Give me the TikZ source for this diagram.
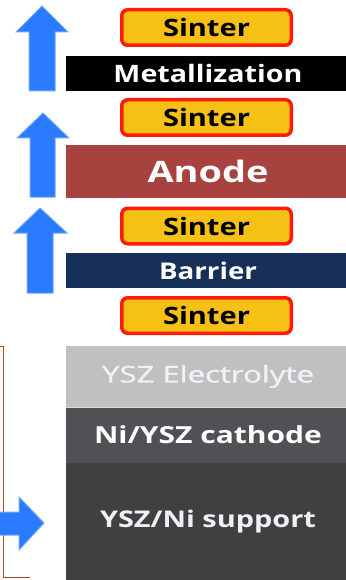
\documentclass[tikz,border=0pt]{standalone}
\usepackage{fontspec}
\setmainfont{Open Sans}
\newfontfamily\semibfont[FakeBold=1.2]{Open Sans}
\usepackage{graphicx}
\definecolor{sinterfill}{HTML}{F6C114}
\definecolor{sinterred}{HTML}{FF1A0A}
\definecolor{anodecol}{HTML}{A8423F}
\definecolor{barriercol}{HTML}{17305A}
\definecolor{electcol}{HTML}{C0C0C0}
\definecolor{cathcol}{HTML}{505155}
\definecolor{suppcol}{HTML}{404040}
\definecolor{arrowblue}{HTML}{2A7BFF}
\definecolor{arrowedge}{HTML}{6FA8FF}
\definecolor{bracketcol}{HTML}{B5472B}
\definecolor{lighttext}{HTML}{EEF2F7}
\newcommand{\fitw}[3]{\resizebox{#1pt}{\height}{\fontsize{#2}{#2}\selectfont #3}}
\begin{document}
\begin{tikzpicture}[x=1pt,y=-1pt,
  sinterbox/.style={draw=sinterred, line width=3.5pt, fill=sinterfill, rounded corners=6pt,
    minimum width=169.5pt, minimum height=35.5pt, inner sep=0pt, text=black, font=\bfseries},
  barbox/.style={draw=none, minimum width=284pt, inner sep=0pt, text=white, font=\bfseries},
  bluearrow/.style={fill=arrowblue, draw=arrowedge, line width=1pt, line join=miter},
  bracket/.style={draw=bracketcol, line width=1pt}]
\useasboundingbox (0,0) rectangle (345,580);
% layer bars
\node[barbox, fill=black, minimum height=35pt] (metal) at (208,73.5) {\fitw{189}{24}{Metallization}};
\node[barbox, fill=anodecol, minimum height=53pt] (anode) at (208,171.5) {\fitw{121}{29.5}{Anode}};
\node[barbox, fill=barriercol, minimum height=35pt] (barrier) at (208,270.5) {\fitw{98}{23}{Barrier}};
\node[barbox, fill=electcol, minimum height=61pt, text=lighttext, font=\semibfont] (elec) at (208,376.5) {\fitw{212}{23}{YSZ Electrolyte}};
\node[barbox, fill=cathcol, minimum height=56pt] (cath) at (208,435) {\fitw{228}{23.5}{Ni/YSZ cathode}};
\node[barbox, fill=suppcol, minimum height=117pt, text=lighttext] (supp) at (208,521.5) {\fitw{216}{23}{YSZ/Ni support}};
\draw[draw=white!85!black, line width=1pt] (elec.south west) -- (elec.south east);
% sinter steps
\node[sinterbox] (s1) at (206.5,27.5) {\fitw{87}{24}{Sinter}};
\node[sinterbox] (s2) at (206.5,117.5) {\fitw{87}{24}{Sinter}};
\node[sinterbox] (s3) at (206.5,226) {\fitw{87}{24}{Sinter}};
\node[sinterbox] (s4) at (206.5,315.5) {\fitw{87}{24}{Sinter}};
% up arrows
\draw[bluearrow] (42,6) -- (68,32) -- (55,32) -- (55,91) -- (29,91) -- (29,32) -- (16,32) -- cycle;
\draw[bluearrow] (43,113) -- (69,138) -- (55,138) -- (55,197) -- (30,197) -- (30,138) -- (17,138) -- cycle;
\draw[bluearrow] (40,208) -- (67,233) -- (53,233) -- (53,293) -- (27,293) -- (27,233) -- (14,233) -- cycle;
% bracket
\coordinate (btop) at (3,346);
\coordinate (bbot) at (3,577);
\draw[bracket] (0,346) -- (btop) -- (bbot) -- (30,577);
% right arrow
\draw[bluearrow] (44,523) -- (19,550) -- (19,535) -- (-2,535) -- (-2,512) -- (19,512) -- (19,497) -- cycle;
\end{tikzpicture}
\end{document}
